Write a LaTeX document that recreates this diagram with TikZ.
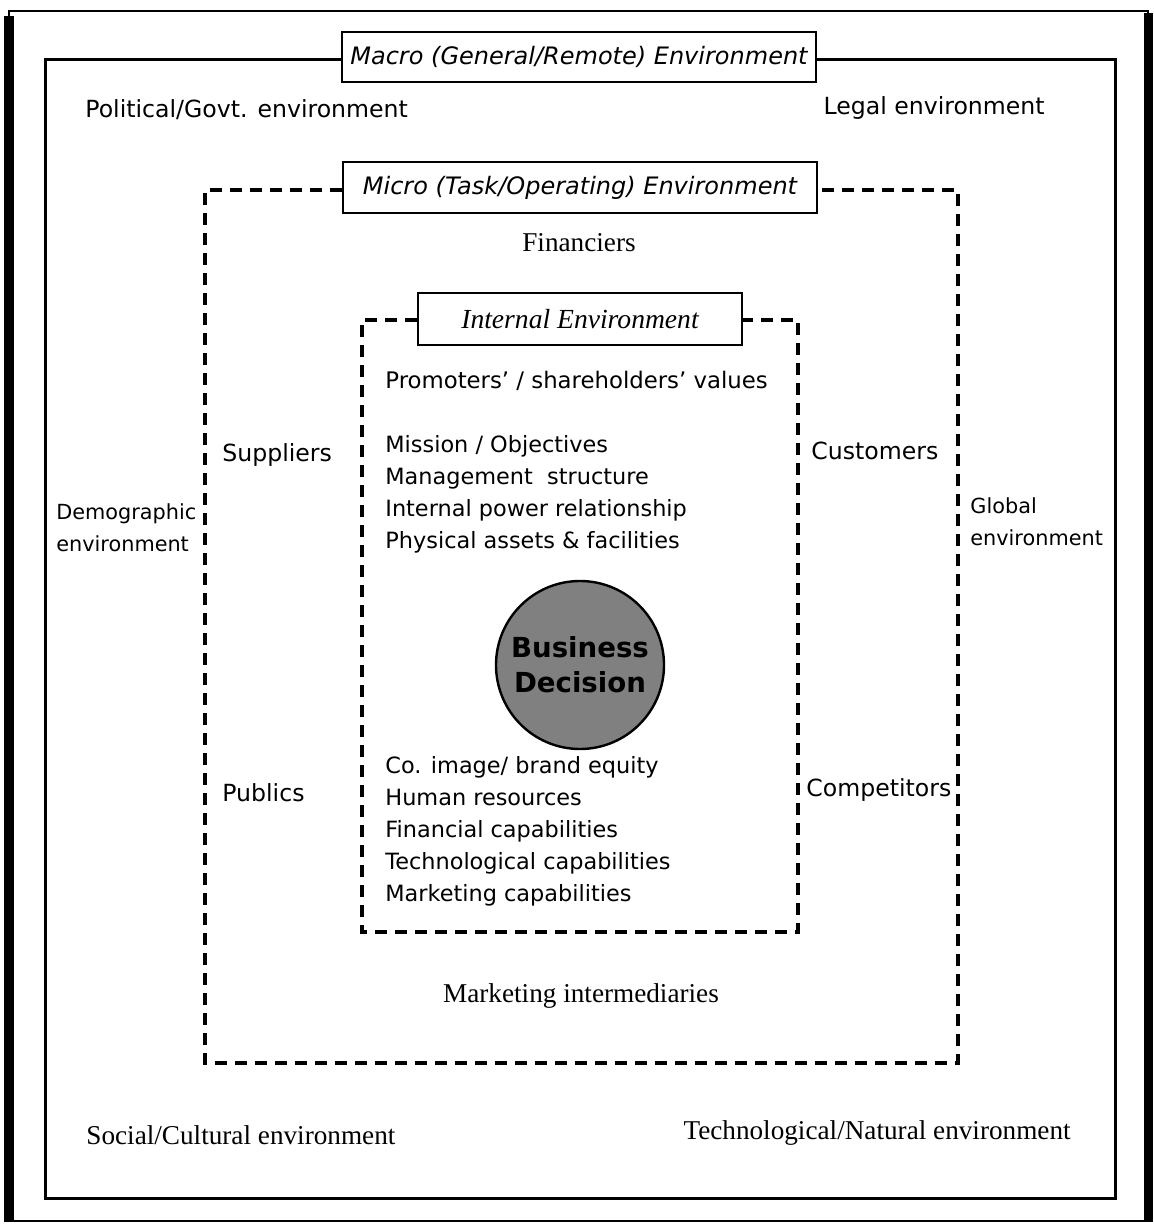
\documentclass[tikz,border=0pt]{standalone}
\usepackage{fontspec}
\setmainfont{Liberation Serif}
\setsansfont{DejaVu Sans}
\usepackage{tikz}

\begin{document}
\begin{tikzpicture}[x=0.5pt, y=-0.5pt,
    sanstext/.style={font=\sffamily\fontsize{11.8}{14}\selectfont, inner sep=0pt},
    listtext/.style={font=\sffamily\fontsize{11.2}{16}\selectfont, inner sep=0pt, align=left},
    sidetext/.style={font=\sffamily\fontsize{10.4}{16}\selectfont, inner sep=0pt, align=left},
    seriftext/.style={font=\fontsize{13.6}{16}\selectfont, inner sep=0pt},
    titlebox/.style={draw, line width=1pt, fill=white, inner sep=0pt},
    dashline/.style={line width=1.6pt, dash pattern=on 6pt off 4pt}]

    \useasboundingbox (0,0) rectangle (1154,1225);

    % Outer page frame with heavy side bars
    \draw[line width=1pt] (9,11) rectangle (1148,1221);
    \fill (4,16) rectangle (14,1222);
    \fill (1144,13) rectangle (1153,1222);

    % Macro (general) environment
    \node[titlebox, minimum width=237pt, minimum height=25pt,
          font=\sffamily\itshape\fontsize{12}{14}\selectfont] (macro) at (579,57)
          {Macro (General/Remote) Environment};
    \coordinate (macroTL) at (45,60);
    \coordinate (macroBR) at (1115,1198);
    \draw[line width=1.5pt] (macroTL -| macro.west) -- (macroTL) |- (macroBR)
        |- (macroTL -| macro.east);

    \node[sanstext, anchor=west] (political) at (85,110) {Political/Govt. environment};
    \node[sanstext, anchor=east] (legal) at (1045,108) {Legal environment};
    \node[sidetext, anchor=west] (demographic) at (56,528) {Demographic\\environment};
    \node[sidetext, anchor=west] (global) at (970,522) {Global\\environment};
    \node[seriftext, anchor=west] (social) at (86,1135) {Social/Cultural environment};
    \node[seriftext, anchor=east] (technological) at (1071,1133) {Technological/Natural environment};

    % Micro (task) environment
    \node[titlebox, minimum width=237pt, minimum height=25.5pt,
          font=\sffamily\itshape\fontsize{12}{14}\selectfont] (micro) at (580,188)
          {Micro (Task/Operating) Environment};
    \coordinate (microTL) at (205,190);
    \coordinate (microBR) at (958,1063);
    \draw[dashline] (microTL -| micro.west) -- (microTL) |- (microBR)
        |- (microTL -| micro.east);

    \node[seriftext] (financiers) at (579,243) {Financiers};
    \node[sanstext, anchor=west] (suppliers) at (222,455) {Suppliers};
    \node[sanstext, anchor=west] (customers) at (811,451) {Customers};
    \node[sanstext, anchor=west] (publics) at (222,793) {Publics};
    \node[sanstext, anchor=west] (competitors) at (806,790) {Competitors};
    \node[seriftext] (intermediaries) at (581,996) {Marketing intermediaries};

    % Internal environment
    \node[titlebox, minimum width=162pt, minimum height=26pt,
          font=\itshape\fontsize{13.8}{16}\selectfont] (internal) at (580,319)
          {Internal Environment};
    \coordinate (internalTL) at (362,320);
    \coordinate (internalBR) at (798,932);
    \draw[dashline] (internalTL -| internal.west) -- (internalTL) |- (internalBR)
        |- (internalTL -| internal.east);

    \node[sanstext, anchor=west, font=\sffamily\fontsize{11.4}{14}\selectfont] (promoters) at (385,381)
        {Promoters' / shareholders' values};
    \node[listtext, anchor=west] (mission) at (385,494)
        {Mission / Objectives\\Management\ \ structure\\Internal power relationship\\Physical assets \& facilities};
    \node[listtext, anchor=west] (coimage) at (385,831)
        {Co. image/ brand equity\\Human resources\\Financial capabilities\\Technological capabilities\\Marketing capabilities};

    % Business decision at the centre
    \node[circle, draw, line width=1.2pt, fill=black!50, minimum size=84pt, inner sep=0pt,
          align=center, font=\sffamily\bfseries\fontsize{13.8}{17.5}\selectfont] (decision) at (580,665)
          {Business\\Decision};

\end{tikzpicture}
\end{document}
